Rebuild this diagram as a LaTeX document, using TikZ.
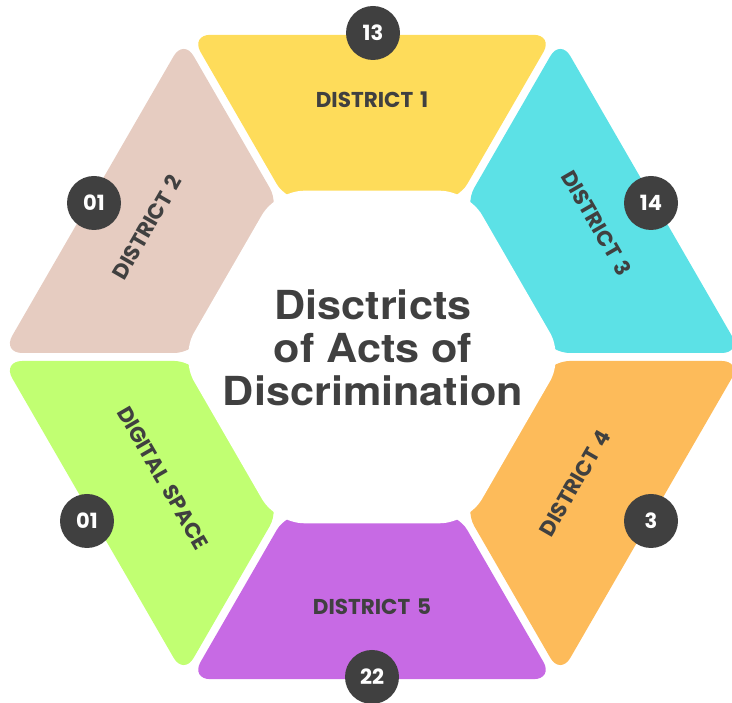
\documentclass[tikz,border=0pt]{standalone}
\usepackage{tikz}
\usepackage{xcolor}
\usepackage{fontspec}
\setmainfont{Poppins}[WordSpace=1.5]
\newfontfamily\titlefont[FakeStretch=1.08]{TeX Gyre Heros}

\definecolor{distyellow}{HTML}{FEDC5A}
\definecolor{distbeige}{HTML}{E6CCC1}
\definecolor{distcyan}{HTML}{5CE1E6}
\definecolor{distgreen}{HTML}{C1FF72}
\definecolor{distorange}{HTML}{FDBB5A}
\definecolor{distpurple}{HTML}{C76AE4}
\definecolor{badgegray}{HTML}{404040}
\definecolor{textgray}{HTML}{404040}

\begin{document}
\begin{tikzpicture}[x=1pt,y=1pt]
\tikzset{segment/.style={rounded corners=20pt}}
\tikzset{badge/.style={circle,fill=badgegray,text=white,minimum size=54pt,inner sep=0pt,font=\fontsize{21}{21}\selectfont\bfseries}}
\tikzset{distlabel/.style={text=textgray,font=\fontsize{21.5}{21.5}\selectfont\bfseries}}

\useasboundingbox (0,0) rectangle (732,703);

\begin{scope}[shift={(372,346)}]
\fill[segment,fill=distyellow] (-181.4,322.2) -- (181.4,322.2) -- (85.4,155.9) -- (-85.4,155.9) -- cycle;
\fill[segment,fill=distbeige,rotate=60] (-181.4,322.2) -- (181.4,322.2) -- (85.4,155.9) -- (-85.4,155.9) -- cycle;
\fill[segment,fill=distgreen,rotate=120] (-181.4,322.2) -- (181.4,322.2) -- (85.4,155.9) -- (-85.4,155.9) -- cycle;
\fill[segment,fill=distpurple,rotate=180] (-181.4,322.2) -- (181.4,322.2) -- (85.4,155.9) -- (-85.4,155.9) -- cycle;
\fill[segment,fill=distorange,rotate=240] (-181.4,322.2) -- (181.4,322.2) -- (85.4,155.9) -- (-85.4,155.9) -- cycle;
\fill[segment,fill=distcyan,rotate=300] (-181.4,322.2) -- (181.4,322.2) -- (85.4,155.9) -- (-85.4,155.9) -- cycle;
\fill[white,rounded corners=28pt] (0:192) -- (60:192) -- (120:192) -- (180:192) -- (240:192) -- (300:192) -- cycle;
\end{scope}

\node[distlabel] (d1) at (372,603) {DISTRICT 1};
\node[distlabel,rotate=60] (d2) at (147,476) {DISTRICT 2};
\node[distlabel,rotate=-60] (d3) at (597,480) {DISTRICT 3};
\node[distlabel,rotate=-60] (dspace) at (163,225) {DIGITAL SPACE};
\node[distlabel,rotate=60] (d4) at (575,220) {DISTRICT 4};
\node[distlabel] (d5) at (372,96) {DISTRICT 5};

\node[badge] (b13) at (373,670) {13};
\node[badge] (b01a) at (94,500) {01};
\node[badge] (b14) at (651,500) {14};
\node[badge] (b01b) at (87,182) {01};
\node[badge] (b3) at (651,182) {3};
\node[badge] (b22) at (372,26) {22};

\node[align=center,text=textgray,font=\titlefont\bfseries\fontsize{40}{43}\selectfont] (title) at (373,355) {Disctricts\\of Acts of\\Discrimination};
\end{tikzpicture}
\end{document}
